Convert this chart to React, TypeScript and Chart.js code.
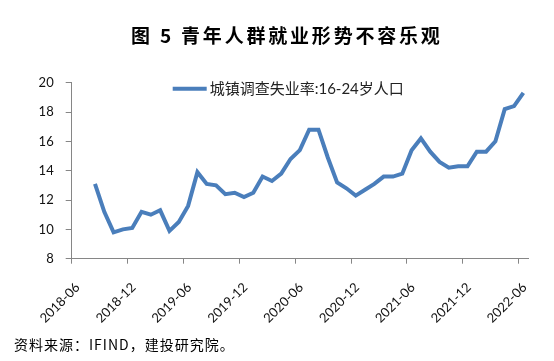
import React, { useEffect, useRef } from "react";
import { Chart, registerables } from "chart.js";

Chart.register(...registerables);

const seriesLabel = "城镇调查失业率:16-24岁人口";

const months = [
  "2018-08", "2018-09", "2018-10", "2018-11", "2018-12",
  "2019-01", "2019-02", "2019-03", "2019-04", "2019-05", "2019-06",
  "2019-07", "2019-08", "2019-09", "2019-10", "2019-11", "2019-12",
  "2020-01", "2020-02", "2020-03", "2020-04", "2020-05", "2020-06",
  "2020-07", "2020-08", "2020-09", "2020-10", "2020-11", "2020-12",
  "2021-01", "2021-02", "2021-03", "2021-04", "2021-05", "2021-06",
  "2021-07", "2021-08", "2021-09", "2021-10", "2021-11", "2021-12",
  "2022-01", "2022-02", "2022-03", "2022-04", "2022-05", "2022-06",
];

const youthUnemployment = [
  13.1, 11.2, 9.8, 10.0, 10.1,
  11.2, 11.0, 11.3, 9.9, 10.5, 11.6,
  13.9, 13.1, 13.0, 12.4, 12.5, 12.2,
  12.5, 13.6, 13.3, 13.8, 14.8, 15.4,
  16.8, 16.8, 14.9, 13.2, 12.8, 12.3,
  12.7, 13.1, 13.6, 13.6, 13.8, 15.4,
  16.2, 15.3, 14.6, 14.2, 14.3, 14.3,
  15.3, 15.3, 16.0, 18.2, 18.4, 19.3,
];

const xTickLabels = [
  "2018-06", "2018-12", "2019-06", "2019-12", "2020-06",
  "2020-12", "2021-06", "2021-12", "2022-06",
];

const yMin = 8;
const yMax = 20;
const yStep = 2;

// month axis: band index counted from the first tick label month
const axisStart = xTickLabels[0];
const monthsPerTick = 6;
const axisMonths = (xTickLabels.length - 1) * monthsPerTick + 1;

function monthIndex(label: string): number {
  const [y, m] = label.split("-").map(Number);
  const [y0, m0] = axisStart.split("-").map(Number);
  return (y - y0) * 12 + (m - m0);
}

const lineColor = "#4A7EBB";
const axisColor = "#868686";

export default function App() {
  const ref = useRef<HTMLCanvasElement>(null);

  useEffect(() => {
    const canvas = ref.current;
    if (!canvas) return;

    const insideLegend = {
      id: "insideLegend",
      afterDraw(chart: any) {
        const { ctx, chartArea } = chart;
        const ds = chart.data.datasets[0];
        const x0 = chartArea.left + 101;
        const y0 = chartArea.top + 6;
        ctx.save();
        ctx.strokeStyle = ds.borderColor;
        ctx.lineWidth = 4;
        ctx.lineCap = "butt";
        ctx.beginPath();
        ctx.moveTo(x0, y0);
        ctx.lineTo(x0 + 34, y0);
        ctx.stroke();
        ctx.fillStyle = "#222";
        ctx.font = "15px Lato, 'Noto Sans CJK SC', sans-serif";
        ctx.textBaseline = "middle";
        ctx.textAlign = "left";
        ctx.fillText(ds.label, x0 + 37, y0);
        ctx.restore();
      },
    };

    const chart = new Chart(canvas, {
      type: "line",
      data: {
        datasets: [
          {
            label: seriesLabel,
            data: months.map((m, i) => ({ x: monthIndex(m) + 0.5, y: youthUnemployment[i] })),
            borderColor: lineColor,
            backgroundColor: lineColor,
            borderWidth: 4,
            pointRadius: 0,
            tension: 0,
            fill: false,
          },
        ],
      },
      options: {
        animation: false,
        responsive: false,
        layout: { padding: { left: 0, right: 26, top: 82.7, bottom: 0 } },
        plugins: {
          legend: { display: false },
          tooltip: { enabled: false },
          title: { display: false },
        },
        scales: {
          x: {
            type: "linear",
            min: 0,
            max: axisMonths,
            afterFit: (s: any) => {
              s.height = 102.3;
            },
            grid: {
              display: true,
              drawOnChartArea: false,
              drawTicks: true,
              tickLength: 5,
              color: axisColor,
            },
            border: { display: true, color: axisColor, width: 1 },
            ticks: {
              stepSize: monthsPerTick,
              includeBounds: false,
              autoSkip: false,
              minRotation: 45,
              maxRotation: 45,
              padding: 16,
              labelOffset: 6,
              color: "#111",
              font: { family: "Lato, 'Liberation Sans', sans-serif", size: 13 },
              callback: (v: any) => {
                const i = Math.round(Number(v) / monthsPerTick);
                return xTickLabels[i] ?? "";
              },
            },
          },
          y: {
            type: "linear",
            min: yMin,
            max: yMax,
            afterFit: (s: any) => {
              s.width = 71.7;
            },
            grid: {
              display: true,
              drawOnChartArea: false,
              drawTicks: true,
              tickLength: 6,
              color: axisColor,
            },
            border: { display: true, color: axisColor, width: 1 },
            ticks: {
              stepSize: yStep,
              padding: 12,
              color: "#111",
              font: { family: "Lato, 'Liberation Sans', sans-serif", size: 13 },
            },
          },
        },
      },
      plugins: [insideLegend],
    } as any);

    return () => chart.destroy();
  }, []);

  return (
    <div
      style={{
        position: "absolute",
        left: 0,
        top: 0,
        width: 554,
        height: 361,
        background: "#fff",
        overflow: "hidden",
      }}
    >
      <canvas
        ref={ref}
        width={554}
        height={361}
        style={{ position: "absolute", left: 0, top: 0, width: 554, height: 361 }}
      />
      <div
        style={{
          position: "absolute",
          left: 131,
          top: 25,
          fontFamily: "'Noto Sans CJK SC', sans-serif",
          fontWeight: 700,
          fontSize: 19,
          lineHeight: "19px",
          letterSpacing: "2.8px",
          color: "#000",
          whiteSpace: "nowrap",
        }}
      >
        图 5 青年人群就业形势不容乐观
      </div>
      <div
        style={{
          position: "absolute",
          left: 14,
          top: 337,
          fontFamily: "'Noto Sans CJK SC', sans-serif",
          fontWeight: 400,
          fontSize: 14,
          lineHeight: "14px",
          letterSpacing: "1px",
          color: "#000",
          whiteSpace: "nowrap",
        }}
      >
        资料来源：IFIND，建投研究院。
      </div>
    </div>
  );
}
